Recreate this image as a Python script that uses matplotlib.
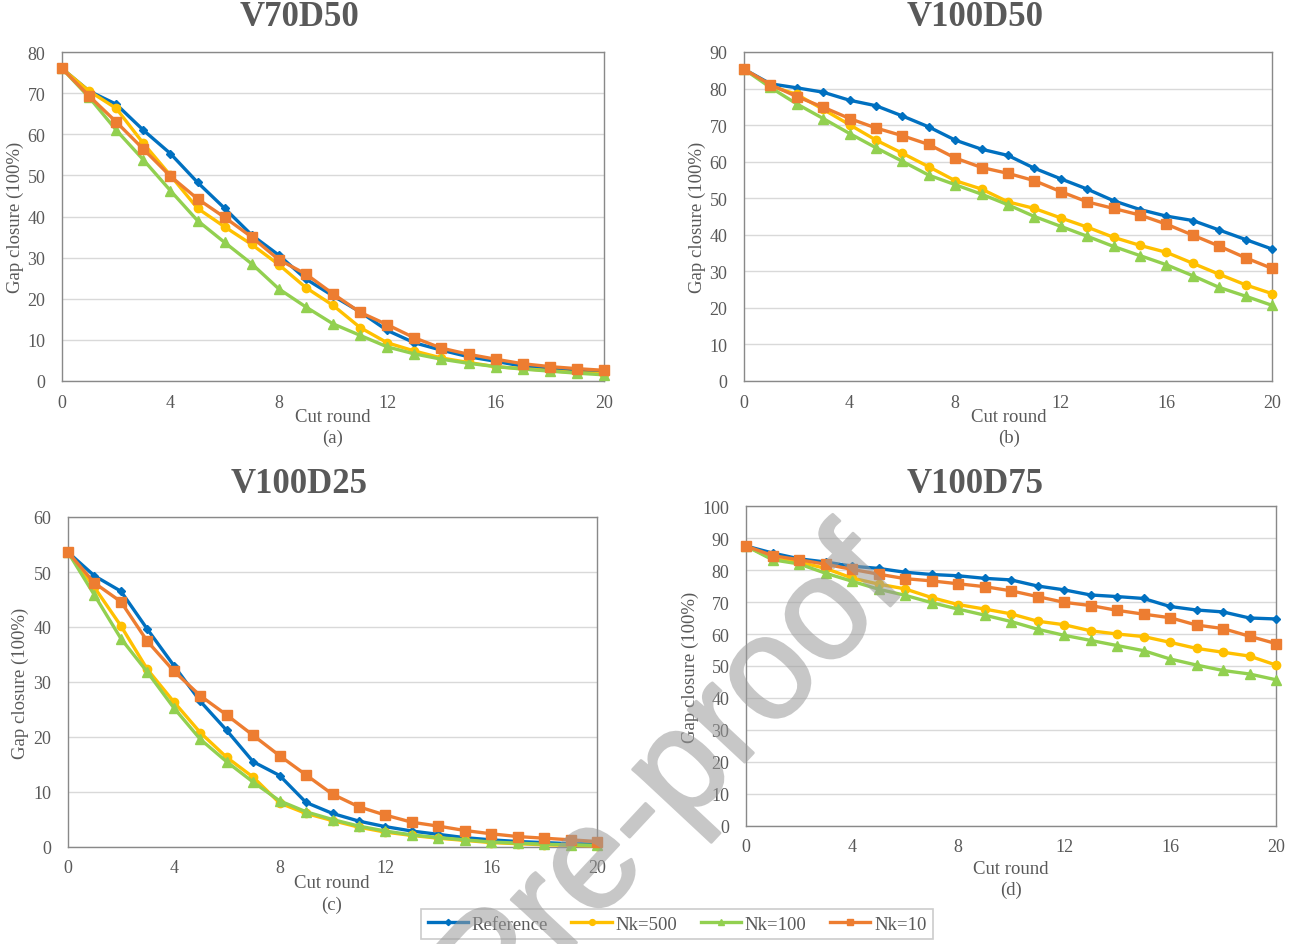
import matplotlib
matplotlib.use("Agg")
import matplotlib.pyplot as plt
import matplotlib.patheffects as pe
import numpy as np

rounds = list(range(21))
series_names = ["Reference", "Nk=500", "Nk=100", "Nk=10"]
panel_titles = ["V70D50", "V100D50", "V100D25", "V100D75"]
panel_tags = ["(a)", "(b)", "(c)", "(d)"]
x_ticks = [0, 4, 8, 12, 16, 20]

# (a) V70D50
a_ref = [76, 70.5, 67.3, 61, 55.3, 48.3, 42, 35.5, 30.6, 24.8, 20.7, 16.8, 12.3, 9.3, 7.5, 5.9, 4.8, 3.6, 3.0, 2.5, 2.2]
a_500 = [76, 70.5, 66.3, 57.8, 50, 42, 37.5, 33.2, 28.3, 22.7, 18.4, 13, 9.3, 7.3, 5.6, 4.5, 3.5, 3.0, 2.5, 2.0, 1.8]
a_100 = [76, 69, 61, 53.8, 46.3, 39, 33.7, 28.5, 22.4, 18, 13.9, 11.1, 8.3, 6.6, 5.3, 4.3, 3.5, 2.9, 2.4, 1.9, 1.5]
a_10 = [76, 69.3, 63, 56.4, 49.8, 44.3, 39.8, 35, 29.5, 26, 21.2, 16.7, 13.7, 10.5, 8.0, 6.5, 5.3, 4.2, 3.5, 3.0, 2.6]

# (b) V100D50
b_ref = [85.3, 81.3, 80.2, 79, 76.8, 75.3, 72.5, 69.5, 65.9, 63.4, 61.7, 58.2, 55.3, 52.5, 49.3, 46.9, 45.1, 43.9, 41.3, 38.7, 36.1]
b_500 = [85.3, 80.7, 78.4, 74.3, 70.1, 65.9, 62.3, 58.6, 54.8, 52.5, 49, 47.2, 44.6, 42.1, 39.3, 37.1, 35.2, 32.2, 29.2, 26.3, 23.9]
b_100 = [85.3, 80.3, 75.8, 71.8, 67.7, 63.8, 60.1, 56.3, 53.7, 51.1, 48.2, 45, 42.3, 39.6, 36.8, 34.3, 31.8, 28.8, 25.6, 23.2, 20.7]
b_10 = [85.3, 81.1, 77.8, 74.9, 71.8, 69.2, 67.1, 64.7, 61, 58.4, 56.8, 54.8, 51.8, 49, 47.2, 45.4, 42.9, 39.9, 36.9, 33.7, 30.8]

# (c) V100D25
c_ref = [53.6, 49.3, 46.5, 39.6, 33, 26.5, 21.2, 15.5, 13, 8.1, 6.1, 4.7, 3.7, 2.9, 2.3, 1.7, 1.3, 1.0, 0.8, 0.6, 0.5]
c_500 = [53.6, 47.2, 40.2, 32.3, 26.4, 20.8, 16.3, 12.7, 8.0, 6.1, 4.8, 3.6, 2.7, 2.1, 1.6, 1.2, 0.8, 0.6, 0.4, 0.3, 0.2]
c_100 = [53.6, 45.8, 37.9, 31.8, 25.3, 19.6, 15.5, 11.8, 8.4, 6.4, 5.0, 3.8, 2.9, 2.2, 1.7, 1.3, 0.9, 0.7, 0.5, 0.4, 0.3]
c_10 = [53.6, 48, 44.6, 37.4, 32, 27.5, 24, 20.3, 16.6, 13.1, 9.6, 7.3, 5.8, 4.5, 3.8, 3.0, 2.4, 1.9, 1.6, 1.3, 1.0]

# (d) V100D75
d_ref = [87.5, 85.3, 83.5, 82.5, 81.2, 80.5, 79.3, 78.6, 78.2, 77.4, 76.9, 75, 73.8, 72.2, 71.7, 71.1, 68.6, 67.5, 66.9, 65, 64.7]
d_500 = [87.5, 83.5, 82.5, 80.5, 77.5, 75.6, 74.1, 71.4, 69.2, 67.8, 66.3, 64, 62.9, 61, 60, 59.2, 57.4, 55.5, 54.3, 53.1, 50.3]
d_100 = [87.5, 83.2, 81.9, 79, 76.5, 74, 72.1, 69.8, 67.8, 65.9, 63.9, 61.5, 59.6, 58, 56.4, 54.8, 52.2, 50.3, 48.6, 47.5, 45.7]
d_10 = [87.5, 84.5, 83.2, 81.8, 80.2, 78.7, 77.3, 76.6, 75.7, 74.8, 73.5, 71.7, 69.9, 68.9, 67.4, 66.2, 65.1, 62.8, 61.7, 59.3, 57]

panels = [
    [a_ref, a_500, a_100, a_10],
    [b_ref, b_500, b_100, b_10],
    [c_ref, c_500, c_100, c_10],
    [d_ref, d_500, d_100, d_10],
]
y_max = [80, 90, 60, 100]

colors = ["#0070C0", "#FFC000", "#92D050", "#ED7D31"]
markers = ["D", "o", "^", "s"]
msizes = [4.5, 6, 6.5, 6.5]

W, H = 1298, 945
TXT = "#595959"
SERIF = ["Liberation Serif", "DejaVu Serif"]
plt.rcParams["font.family"] = SERIF

fig = plt.figure(figsize=(W / 100, H / 100), dpi=100)

# axes boxes in pixels: left, right, top, bottom
boxes = [(62, 604, 53, 382), (744, 1272, 53, 382), (68, 597, 518, 848), (746, 1276, 507, 827)]
title_pos = [(299, 18), (975, 18), (299, 485), (975, 485)]
ylab_pos = [(15, 217), (697, 217), (20, 683), (690, 667)]
xlab_pos = [(333, 418), (1009, 418), (332, 884), (1011, 870)]
tag_pos = [(333, 438), (1009, 438), (332, 905), (1011, 890)]

def fx(x):
    return x / W

def fy(y):
    return 1 - y / H

lines_for_legend = None
for i, (l, r, t, b) in enumerate(boxes):
    ax = fig.add_axes([fx(l), fy(b), fx(r) - fx(l), fy(t) - fy(b)])
    hs = []
    for k in range(4):
        h, = ax.plot(rounds, panels[i][k], color=colors[k], lw=2.4, marker=markers[k],
                     markersize=msizes[k], markeredgecolor=colors[k], clip_on=False,
                     zorder=3 + k, label=series_names[k])
        hs.append(h)
    if lines_for_legend is None:
        lines_for_legend = hs
    ax.set_xlim(0, 20)
    ax.set_ylim(0, y_max[i])
    ax.set_yticks(np.arange(0, y_max[i] + 1, 10))
    ax.set_xticks(x_ticks)
    ax.grid(axis="y", color="#d9d9d9", lw=1)
    ax.set_axisbelow(True)
    for s in ax.spines.values():
        s.set_color("#898989")
        s.set_linewidth(1.0)
    ax.tick_params(length=0, labelsize=13, labelcolor=TXT, pad=9)
    ax.tick_params(axis="y", pad=12)
    fig.text(fx(title_pos[i][0]), fy(title_pos[i][1]), panel_titles[i], ha="center", va="center",
             fontsize=25, fontweight="bold", color=TXT)
    fig.text(fx(ylab_pos[i][0]), fy(ylab_pos[i][1]), "Gap closure (100%)", rotation=90,
             ha="center", va="center", fontsize=13.5, color=TXT)
    fig.text(fx(xlab_pos[i][0]), fy(xlab_pos[i][1]), "Cut round", ha="center", va="center",
             fontsize=13.5, color=TXT)
    fig.text(fx(tag_pos[i][0]), fy(tag_pos[i][1]), panel_tags[i], ha="center", va="center",
             fontsize=13.5, color=TXT)

leg = fig.legend(lines_for_legend, series_names, loc="center", ncol=4,
                 bbox_to_anchor=(fx(677), fy(925)), frameon=True, fancybox=False,
                 edgecolor="#bfbfbf", fontsize=13.5, handlelength=2.15, columnspacing=1.25,
                 handletextpad=0.2, borderpad=0.35, borderaxespad=0, markerscale=0.7)
leg.get_frame().set_linewidth(1.2)
for txt in leg.get_texts():
    txt.set_color(TXT)


def fade(img, dpi):
    img = img.copy()
    img[..., 3] *= 0.55
    return img, 0, 0


wm_color = "#9a9a9a"
wm = fig.text(fx(702), fy(809), "Pre-proof", rotation=47, rotation_mode="anchor",
              ha="center", va="baseline", fontsize=105, color=wm_color,
              family=["Liberation Sans", "DejaVu Sans"], zorder=20)
wm.set_path_effects([pe.withStroke(linewidth=2, foreground=wm_color)])
wm.set_agg_filter(fade)

fig.savefig("out.png", dpi=100, facecolor="white")
